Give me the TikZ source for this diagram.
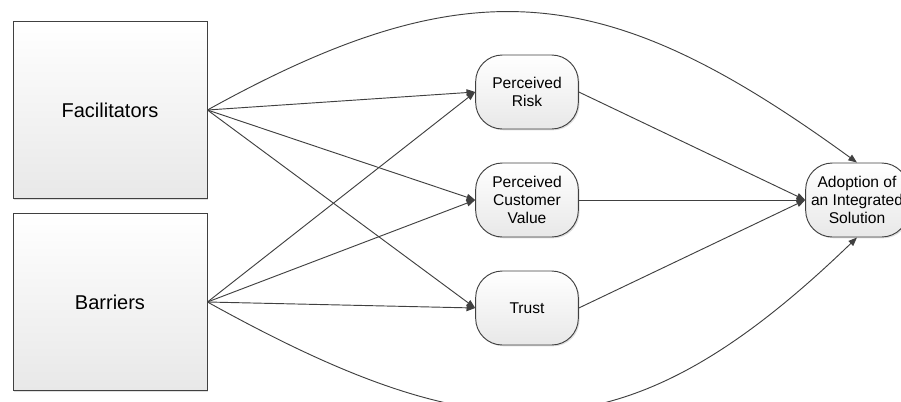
\documentclass[tikz,border=0pt]{standalone}
\usepackage{fontspec}
\setmainfont{Liberation Sans}
\usetikzlibrary{positioning}
\usetikzlibrary{arrows.meta}
\usetikzlibrary{shadows}

\definecolor{edgegray}{HTML}{404040}
\definecolor{fillgray}{HTML}{E8E8E8}

\begin{document}
\begin{tikzpicture}[node distance=81pt,
  every node/.style={draw=edgegray,line width=0.7pt,top color=white,bottom color=fillgray,
    drop shadow={shadow xshift=1pt,shadow yshift=-1pt,opacity=0.25}},
  factor/.style={minimum width=145.5pt,minimum height=133pt,font=\fontsize{15}{18}\selectfont},
  mediator/.style={rounded corners=20pt,minimum width=77pt,minimum height=55.5pt,inner sep=0pt,
    align=center,font=\fontsize{11.7}{13.75}\selectfont},
  link/.style={draw=edgegray,line width=0.7pt,-{Triangle[length=6.5pt,width=5pt]}}]
  \useasboundingbox (0,0) rectangle (675.75pt,-300.75pt);
  % antecedents
  \node[factor](facil) at (82.5pt,-82.5pt) {Facilitators};
  \node[factor](barr) [below of=facil,node distance=144pt] {Barriers};
  % mediators
  \node[mediator](value) at (395.25pt,-150pt) {Perceived\\Customer\\Value};
  \node[mediator](risk) [above of=value] {Perceived\\Risk};
  \node[mediator](trust) [below of=value] {Trust};
  % outcome
  \node[mediator](adopt) [right of=value,node distance=247.5pt] {Adoption of\\an Integrated\\Solution};
  \draw[link] (facil.east)--(risk.west);
  \draw[link] (facil.east)--(value.west);
  \draw[link] (facil.east)--(trust.west);
  \draw[link] (barr.east)--(risk.west);
  \draw[link] (barr.east)--(value.west);
  \draw[link] (barr.east)--(trust.west);
  \draw[link] (risk.east)--(adopt.west);
  \draw[link] (value.east)--(adopt.west);
  \draw[link] (trust.east)--(adopt.west);
  \draw[link] (facil.east) to[out=29,in=144,looseness=1.2] (adopt.north);
  \draw[link] (barr.east) to[out=-29,in=-136,looseness=1.25] (adopt.south);
\end{tikzpicture}
\end{document}
